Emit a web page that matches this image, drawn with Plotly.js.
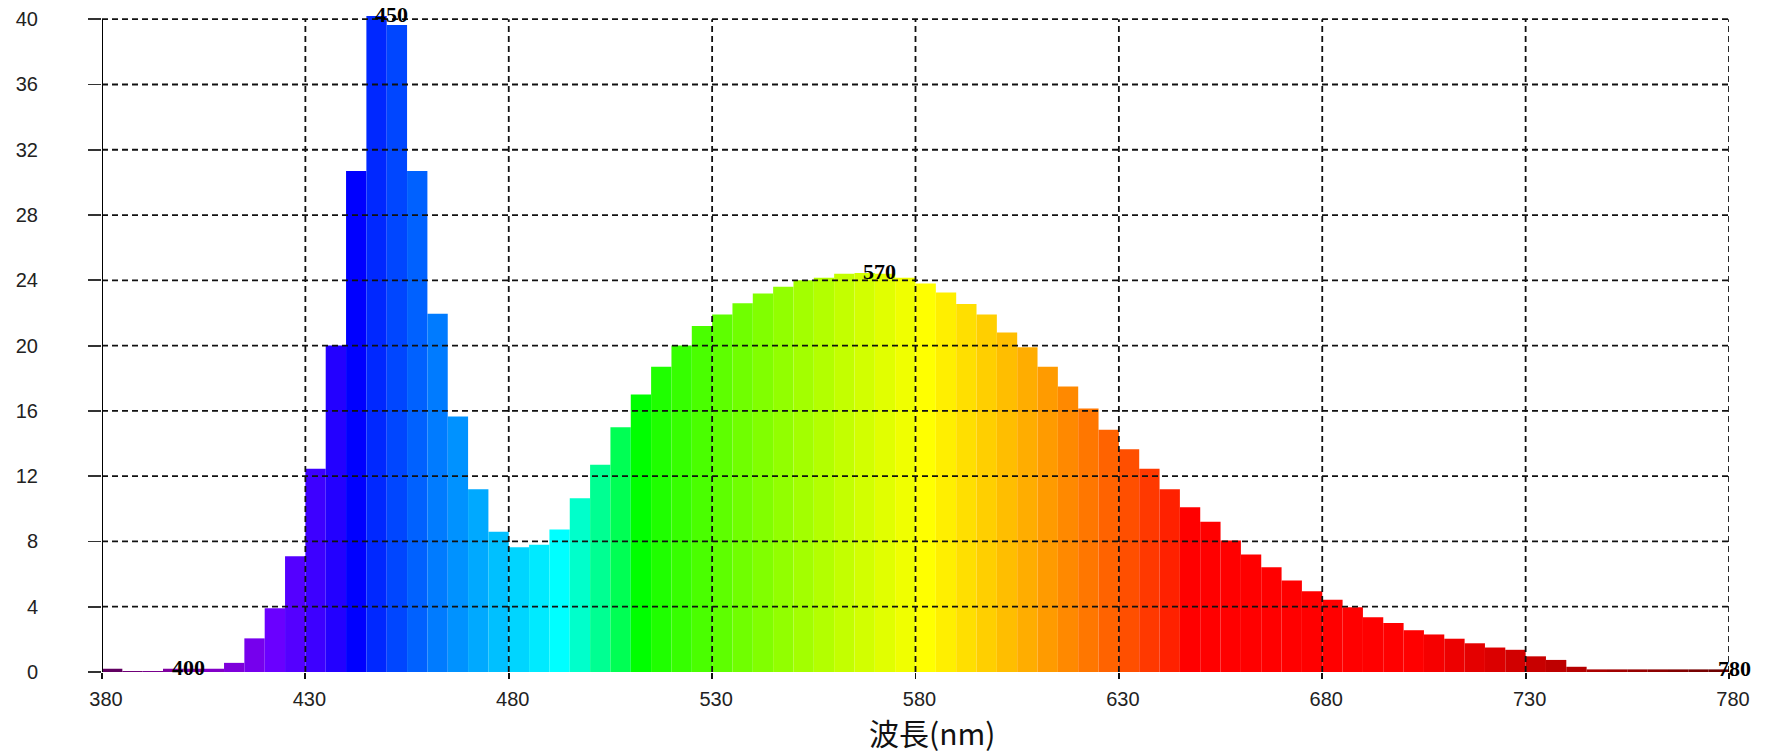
<!DOCTYPE html>
<html>
<head>
<meta charset="utf-8">
<script src="https://cdn.plot.ly/plotly-3.0.1.min.js"></script>
<style>
  html, body { margin: 0; padding: 0; background: #fff; }
  #chart { width: 1766px; height: 755px; }
</style>
</head>
<body>
<div id="chart"></div>
<script>
// Spectral power per 5 nm band; each band is keyed by its upper wavelength (nm).
const wavelengths = [
  385, 390, 395, 400, 405, 410, 415, 420, 425, 430,
  435, 440, 445, 450, 455, 460, 465, 470, 475, 480,
  485, 490, 495, 500, 505, 510, 515, 520, 525, 530,
  535, 540, 545, 550, 555, 560, 565, 570, 575, 580,
  585, 590, 595, 600, 605, 610, 615, 620, 625, 630,
  635, 640, 645, 650, 655, 660, 665, 670, 675, 680,
  685, 690, 695, 700, 705, 710, 715, 720, 725, 730,
  735, 740, 745, 750, 755, 760, 765, 770, 775, 780
];
const intensity = [
  0.2, 0.06, 0.06, 0.2, 0.2, 0.2, 0.56, 2.06, 3.9, 7.1,
  12.45, 20.0, 30.7, 40.2, 39.65, 30.7, 21.95, 15.65, 11.2, 8.6,
  7.65, 7.8, 8.73, 10.65, 12.7, 15.0, 17.0, 18.7, 20.0, 21.2,
  21.9, 22.6, 23.2, 23.6, 24.0, 24.15, 24.4, 24.45, 24.4, 24.15,
  23.8, 23.25, 22.55, 21.9, 20.8, 19.9, 18.7, 17.5, 16.15, 14.85,
  13.65, 12.45, 11.2, 10.1, 9.2, 8.05, 7.2, 6.42, 5.6, 4.95,
  4.42, 3.96, 3.36, 3.0, 2.56, 2.3, 2.04, 1.76, 1.5, 1.36,
  0.96, 0.74, 0.32, 0.16, 0.16, 0.16, 0.16, 0.16, 0.16, 0.16
];
const xTickVals = [380, 430, 480, 530, 580, 630, 680, 730, 780];
const yTickVals = [0, 4, 8, 12, 16, 20, 24, 28, 32, 36, 40];
const markedWavelengths = [400, 450, 570, 780];
const xTitle = '波長(nm)';

const BAND = 5;
const X_MIN = 380, X_MAX = 780, Y_MAX = 40;

// Approximate visible colour of a wavelength (nm), gamma 0.8.
function spectrumColor(nm) {
  let r = 0, g = 0, b = 0;
  if (nm < 440)      { r = (440 - nm) / 60; b = 1; }
  else if (nm < 490) { g = (nm - 440) / 50; b = 1; }
  else if (nm < 510) { g = 1; b = (510 - nm) / 20; }
  else if (nm < 580) { r = (nm - 510) / 70; g = 1; }
  else if (nm < 645) { r = 1; g = (645 - nm) / 65; }
  else               { r = 1; }
  let f = 1;
  if (nm < 420) f = 0.3 + 0.7 * (nm - 380) / 40;
  else if (nm > 700) f = 0.3 + 0.7 * (780 - nm) / 80;
  const c = v => Math.round(255 * Math.pow(v * f, 0.8));
  return 'rgb(' + c(r) + ',' + c(g) + ',' + c(b) + ')';
}

const barColors = wavelengths.map(w => spectrumColor(w - BAND));

const trace = {
  type: 'bar',
  x: wavelengths,
  y: intensity,
  width: BAND,
  offset: -BAND,
  marker: { color: barColors, line: { width: 0 } },
  hoverinfo: 'x+y'
};

// Dashed grid drawn over the bars, plus the solid value axis
const gridLine = { color: '#111', width: 1.8, dash: '6px,4px' };
const shapes = [];
yTickVals.filter(v => v > 0).forEach(v => {
  shapes.push({ type: 'line', xref: 'x', yref: 'y', x0: X_MIN, x1: X_MAX, y0: v, y1: v,
                layer: 'above', line: gridLine });
});
xTickVals.filter(v => v > X_MIN).forEach(v => {
  shapes.push({ type: 'line', xref: 'x', yref: 'y', x0: v, x1: v, y0: 0, y1: Y_MAX,
                layer: 'above', line: gridLine });
});
shapes.push({ type: 'line', xref: 'x', yref: 'y', x0: X_MIN, x1: X_MIN, y0: 0, y1: Y_MAX,
              layer: 'above', line: { color: '#000', width: 2 } });

const annotations = markedWavelengths.map(w => {
  const v = intensity[wavelengths.indexOf(w)];
  return {
    x: w, y: Math.min(v, Y_MAX),
    xref: 'x', yref: 'y',
    text: String(w),
    showarrow: false,
    xanchor: 'center', yanchor: 'middle',
    xshift: 5, yshift: v > Y_MAX ? 5 : 1,
    font: { family: 'Liberation Serif, serif', size: 22, color: '#000', weight: 'bold' }
  };
});

annotations.push({
  xref: 'paper', yref: 'paper',
  x: 0.51, y: 0, yshift: -60,
  xanchor: 'center', yanchor: 'middle',
  text: xTitle, showarrow: false,
  font: { family: 'Noto Sans CJK TC, sans-serif', size: 30, color: '#111' }
});

const tickFont = { family: 'Liberation Sans, Arial, sans-serif', size: 20, color: '#222' };

const layout = {
  width: 1766, height: 755,
  margin: { l: 102, r: 37, t: 13, b: 83, pad: 0 },
  paper_bgcolor: '#fff', plot_bgcolor: '#fff',
  showlegend: false,
  xaxis: {
    range: [X_MIN, X_MAX],
    tickvals: xTickVals,
    ticktext: xTickVals.map(String),
    showgrid: false, zeroline: false, showline: false,
    ticks: 'outside', ticklen: 6, tickwidth: 1.8, tickcolor: '#111',
    tickfont: tickFont,
    ticklabelstandoff: 3,
    ticklabelshift: 4,
    fixedrange: true
  },
  yaxis: {
    range: [0, 40.38],
    tickvals: yTickVals,
    ticktext: yTickVals.map(String),
    showgrid: false, zeroline: false, showline: false,
    ticks: 'outside', ticklen: 13, tickwidth: 1.8, tickcolor: '#333',
    tickfont: tickFont,
    ticklabelstandoff: 46,
    fixedrange: true
  },
  shapes: shapes,
  annotations: annotations
};

Plotly.newPlot('chart', [trace], layout, { displayModeBar: false, staticPlot: true });
</script>
</body>
</html>
